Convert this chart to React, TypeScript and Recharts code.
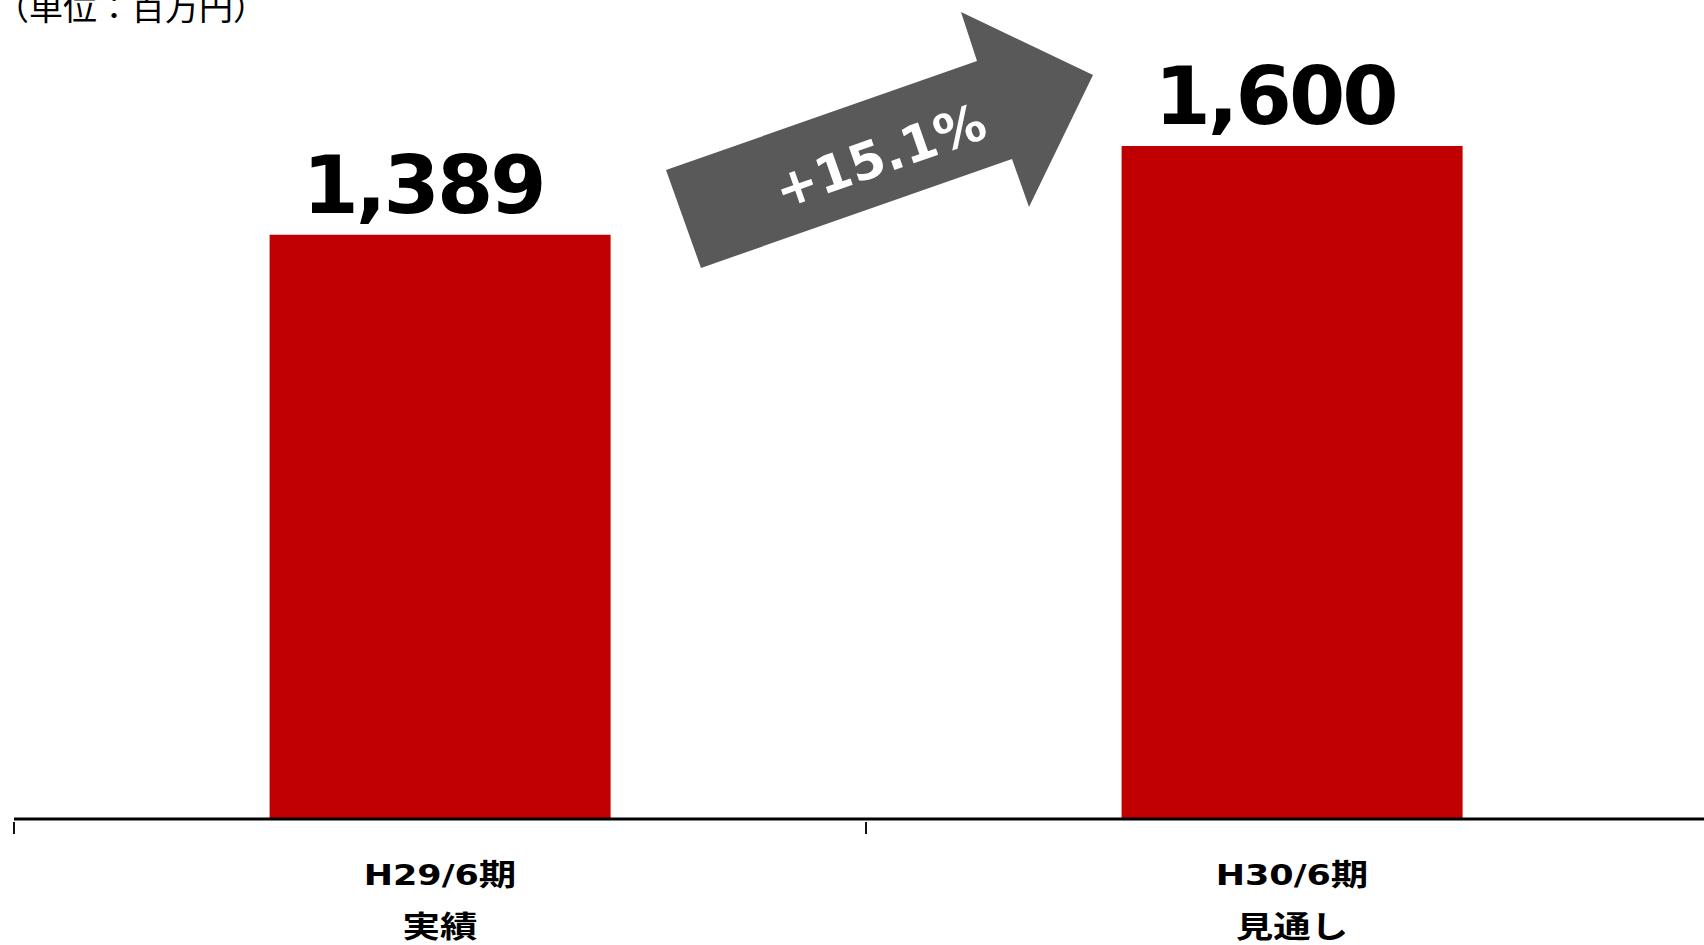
import { Bar, BarChart, LabelList, XAxis, YAxis } from 'recharts'

const periods = ['H29/6期', 'H30/6期']
const periodNotes = ['実績', '見通し']
const values = [1389, 1600]
const changeLabel = '+15.1%'
const unitLabel = '（単位：百万円）'

const data = periods.map((period, i) => ({ period, note: periodNotes[i], value: values[i] }))

const latinBold = "'DejaVu Sans', 'Noto Sans CJK JP', sans-serif"
const cjk = "'Noto Sans CJK JP', sans-serif"

// arrow outline, drawn over the chart
const arrowPoints = '666,170 977,61 961,12 1093,75 1029,207 1012,159 701,268'

// the source slide is stretched sideways a bit
const stretch = 1.25

// split a label into latin / cjk runs so each gets its own font
function runs(label: string) {
  return label.match(/[\u3000-\u9fff\uff00-\uffef]+|[^\u3000-\u9fff\uff00-\uffef]+/g) ?? []
}

function PeriodTick(props: any) {
  const { x, y, payload, index } = props
  const half = payload && payload.offset ? payload.offset : 426
  const note = periodNotes[index] ?? ''
  return (
    <g>
      <line x1={x - half} x2={x - half} y1={y - 5} y2={y + 7} stroke="#111" strokeWidth={2} />
      {index === periods.length - 1 && (
        <line x1={x + half} x2={x + half} y1={y - 5} y2={y + 7} stroke="#111" strokeWidth={2} />
      )}
      <text
        transform={`translate(${x}, ${y + 58}) scale(${stretch}, 1)`}
        textAnchor="middle"
        fontWeight="bold"
        fill="#000"
      >
        {runs(String(payload.value)).map((part, i) =>
          /[\u3000-\u9fff]/.test(part) ? (
            <tspan key={i} fontFamily={cjk} fontSize={30}>{part}</tspan>
          ) : (
            <tspan key={i} fontFamily={latinBold} fontSize={28}>{part}</tspan>
          )
        )}
      </text>
      <text
        transform={`translate(${x}, ${y + 110}) scale(${stretch}, 1)`}
        textAnchor="middle"
        fontFamily={cjk}
        fontWeight="bold"
        fontSize={30}
        fill="#000"
      >
        {note}
      </text>
    </g>
  )
}

function ValueLabel(props: any) {
  const { x, y, width, value } = props
  return (
    <text
      x={x + width / 2 - 17}
      y={y - 22}
      textAnchor="middle"
      fontFamily={latinBold}
      fontWeight="bold"
      fontSize={81}
      letterSpacing={-3}
      fill="#000"
    >
      {Number(value).toLocaleString('en-US')}
    </text>
  )
}

export default function App() {
  return (
    <div
      style={{
        position: 'absolute',
        left: 0,
        top: 0,
        width: 1704,
        height: 945,
        overflow: 'hidden',
        background: '#fff',
      }}
    >
      <BarChart
        width={1722}
        height={945}
        data={data}
        margin={{ top: 62, right: 4, bottom: 0, left: 14 }}
        barCategoryGap="30%"
      >
        <YAxis hide domain={[0, 1800]} />
        <XAxis
          dataKey="period"
          height={126}
          axisLine={{ stroke: '#000', strokeWidth: 3 }}
          tickLine={false}
          tick={<PeriodTick />}
          interval={0}
        />
        <Bar dataKey="value" fill="#C00000" isAnimationActive={false}>
          <LabelList dataKey="value" content={<ValueLabel />} />
        </Bar>
      </BarChart>

      <svg
        width={1704}
        height={945}
        style={{ position: 'absolute', left: 0, top: 0, pointerEvents: 'none' }}
      >
        <text x={-5} y={20} fontFamily={cjk} fontSize={34} fill="#000">
          {unitLabel}
        </text>
        <polygon points={arrowPoints} fill="#595959" />
        <g transform="translate(880,156) rotate(-19.3)">
          <text
            x={0}
            y={18}
            textAnchor="middle"
            fontFamily={latinBold}
            fontWeight="bold"
            fontSize={51}
            fill="#fff"
          >
            {changeLabel}
          </text>
        </g>
      </svg>
    </div>
  )
}
